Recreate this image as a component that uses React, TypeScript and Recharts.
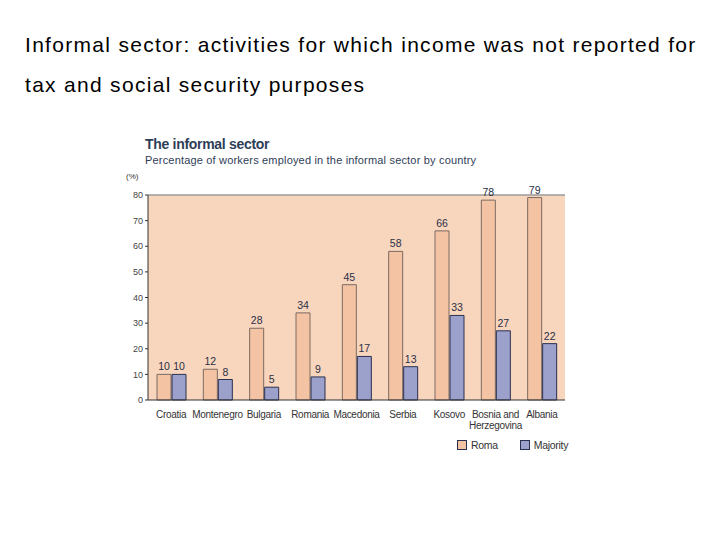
import React from 'react'
import { BarChart, Bar, XAxis, YAxis, CartesianGrid, LabelList, Legend, ReferenceLine } from 'recharts'

const countries = ['Croatia', 'Montenegro', 'Bulgaria', 'Romania', 'Macedonia', 'Serbia', 'Kosovo', 'Bosnia and|Herzegovina', 'Albania']
const roma = [10, 12, 28, 34, 45, 58, 66, 78, 79]
const majority = [10, 8, 5, 9, 17, 13, 33, 27, 22]
const yTicks = [0, 10, 20, 30, 40, 50, 60, 70, 80]
const boundaryTicks = [0, 1, 2, 3, 4, 5, 6, 7, 8, 9]

const data = countries.map((c, i) => ({ country: c, Roma: roma[i], Majority: majority[i] }))

const SANS = "'Liberation Sans', Arial, sans-serif"
const INK = '#2f3e58'
const ROMA_FILL = '#f4c3a3'
const MAJ_FILL = '#9ba1cb'

function CountryTick(props: any) {
  const { x, y, payload } = props
  const lines = String(payload.value).split('|')
  return (
    <text x={x} y={y + 10} textAnchor="middle" fontFamily={SANS} fontSize={10} letterSpacing={-0.3} fill="#333">
      {lines.map((l, i) => (
        <tspan key={i} x={x} dy={i === 0 ? 0 : 11}>{l}</tspan>
      ))}
    </text>
  )
}

function LegendBox() {
  const items = [
    { name: 'Roma', color: ROMA_FILL },
    { name: 'Majority', color: MAJ_FILL },
  ]
  return (
    <div style={{ display: 'flex', fontFamily: SANS, fontSize: 10.5, letterSpacing: -0.3, color: '#333' }}>
      {items.map((it, i) => (
        <div key={it.name} style={{ display: 'flex', alignItems: 'center', marginRight: i === 0 ? 22 : 0 }}>
          <span style={{ width: 8, height: 8, background: it.color, border: '1px solid #2a3050', marginRight: 4, display: 'inline-block' }} />
          <span>{it.name}</span>
        </div>
      ))}
    </div>
  )
}

export default function App() {
  return (
    <div style={{ position: 'absolute', left: 0, top: 0, width: 720, height: 540, background: '#fff', fontFamily: SANS }}>
      <div style={{ position: 'absolute', left: 25, top: 25, fontSize: 21, letterSpacing: 1.3, color: '#000', lineHeight: '40px', whiteSpace: 'nowrap' }}>
        Informal sector: activities for which income was not reported for<br />
        tax and social security purposes
      </div>
      <div style={{ position: 'absolute', left: 145, top: 136, fontSize: 14, letterSpacing: -0.3, fontWeight: 'bold', color: INK, whiteSpace: 'nowrap' }}>
        The informal sector
      </div>
      <div style={{ position: 'absolute', left: 145, top: 154, fontSize: 11, letterSpacing: 0.18, color: INK, whiteSpace: 'nowrap' }}>
        Percentage of workers employed in the informal sector by country
      </div>
      <div style={{ position: 'absolute', left: 126, top: 172, fontSize: 8, color: '#333' }}>(%)</div>
      <div style={{ position: 'absolute', left: 100, top: 160 }}>
        <BarChart width={480} height={300} data={data} margin={{ top: 35, right: 15, left: 8, bottom: 18 }} barGap={1} barCategoryGap={18}>
          <CartesianGrid fill="#f8d5bd" horizontal={false} vertical={false} />
          <XAxis xAxisId="b" type="number" domain={[0, 9]} ticks={boundaryTicks} tick={false} height={0} axisLine={false} tickLine={{ stroke: '#333' }} tickSize={5} allowDataOverflow />
          <XAxis dataKey="country" height={30} tick={<CountryTick />} tickLine={false} axisLine={{ stroke: '#333' }} interval={0} />
          <YAxis domain={[0, 80]} ticks={yTicks} width={40} tick={{ fontSize: 9, fill: '#444', fontFamily: SANS }} tickSize={3} tickLine={{ stroke: '#333' }} axisLine={{ stroke: '#333' }} />
          <YAxis yAxisId="r" orientation="right" domain={[0, 80]} width={0} tick={false} tickLine={false} axisLine={{ stroke: '#9a9a9a' }} />
          <ReferenceLine y={80} stroke="#9a9a9a" strokeWidth={1.5} />
          <Legend content={<LegendBox />} wrapperStyle={{ position: 'absolute', left: 357, top: 279, width: 'auto' }} />
          <Bar dataKey="Roma" fill={ROMA_FILL} stroke="#7c6a62" strokeWidth={1} barSize={14} isAnimationActive={false}>
            <LabelList dataKey="Roma" position="top" offset={4} fontSize={10.5} fill="#2a2f45" fontFamily={SANS} />
          </Bar>
          <Bar dataKey="Majority" fill={MAJ_FILL} stroke="#2a3050" strokeWidth={1} barSize={14} isAnimationActive={false}>
            <LabelList dataKey="Majority" position="top" offset={4} fontSize={10.5} fill="#2a2f45" fontFamily={SANS} />
          </Bar>
        </BarChart>
      </div>
    </div>
  )
}
